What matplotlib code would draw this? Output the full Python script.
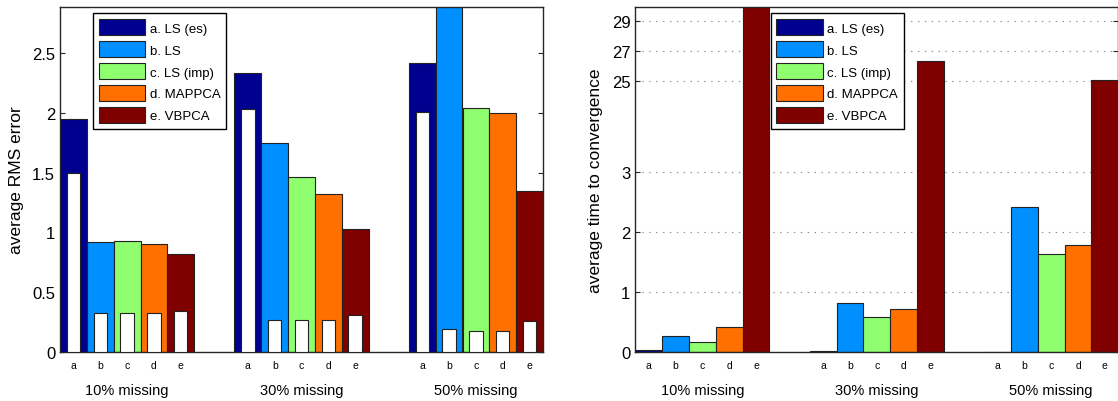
import numpy as np
import matplotlib
matplotlib.use('Agg')
import matplotlib.pyplot as plt

plt.rcParams['font.family'] = ['Liberation Sans', 'DejaVu Sans']

# data
methods = ['a. LS (es)', 'b. LS', 'c. LS (imp)', 'd. MAPPCA', 'e. VBPCA']
letters = ['a', 'b', 'c', 'd', 'e']
groups = ['10% missing', '30% missing', '50% missing']
colors = ['#00008F', '#008FFF', '#8FFF70', '#FF7000', '#800000']

# RMS error on test (outer bars) and train (inner white bars)
rms_test = [[1.95, 0.92, 0.93, 0.90, 0.82],
            [2.33, 1.75, 1.46, 1.32, 1.03],
            [2.42, 3.10, 2.04, 2.00, 1.35]]
rms_train = [[1.50, 0.33, 0.33, 0.33, 0.345],
             [2.03, 0.27, 0.27, 0.267, 0.31],
             [2.01, 0.19, 0.178, 0.178, 0.262]]
# time to convergence
conv_time = [[0.04, 0.26, 0.16, 0.41, 31.0],
             [0.015, 0.82, 0.58, 0.72, 26.3],
             [0.005, 2.41, 1.63, 1.79, 25.05]]

gstep = 6.5
edge = '#222222'


# broken y axis for the right panel: 0..4 linear, then 22.93.. compressed 4x
def fwd(y):
    y = np.asarray(y, dtype=float)
    return np.where(y <= 4, y, np.where(y >= 22.93, 4 + (y - 22.93) / 4, 4.0))


def inv(u):
    u = np.asarray(u, dtype=float)
    return np.where(u <= 4, u, 22.93 + 4 * (u - 4))


fig = plt.figure(figsize=(11.18, 4.02), dpi=100)
ax1 = fig.add_axes([60 / 1118, 49 / 402, 483 / 1118, 345 / 402])
ax2 = fig.add_axes([635.3 / 1118, 49 / 402, 483 / 1118, 345 / 402])


def style(ax):
    for s in ax.spines.values():
        s.set_color('#262626')
        s.set_linewidth(1.0)
    ax.tick_params(axis='y', direction='in', length=3.6, left=True, right=True,
                   labelsize=12, width=0.8, color='#262626')
    ax.tick_params(axis='x', length=0, labelsize=7.5, pad=6)
    ax.set_xlim(0, 3 * 5 + 2 * (gstep - 5))
    centers = [g * gstep + i + 0.5 for g in range(3) for i in range(5)]
    ax.set_xticks(centers)
    ax.set_xticklabels(letters * 3)
    for g, name in enumerate(groups):
        ax.text(g * gstep + 2.5, -0.11, name, transform=ax.get_xaxis_transform(),
                ha='center', va='center', fontsize=10.5)


# left panel
handles = []
for i in range(5):
    xs = [g * gstep + i + 0.5 for g in range(3)]
    h = ax1.bar(xs, [rms_test[g][i] for g in range(3)], width=1.0, color=colors[i],
                edgecolor=edge, linewidth=0.8, label=methods[i], zorder=2)
    handles.append(h)
    ax1.bar(xs, [rms_train[g][i] for g in range(3)], width=0.5, color='white',
            edgecolor=edge, linewidth=0.8, zorder=3)
ax1.set_ylim(0, 2.885)
ax1.set_yticks([0, 0.5, 1, 1.5, 2, 2.5])
ax1.set_yticklabels(['0', '0.5', '1', '1.5', '2', '2.5'])
ax1.set_ylabel('average RMS error', fontsize=12.5, labelpad=6)
style(ax1)

# right panel
ax2.set_yscale('function', functions=(fwd, inv))
for i in range(5):
    xs = [g * gstep + i + 0.5 for g in range(3)]
    ax2.bar(xs, [conv_time[g][i] for g in range(3)], width=1.0, color=colors[i],
            edgecolor=edge, linewidth=0.8, label=methods[i], zorder=2)
ax2.set_ylim(0, 29.93)
ax2.set_yticks([0, 1, 2, 3, 25, 27, 29])
ax2.set_yticklabels(['0', '1', '2', '3', '25', '27', '29'])
ax2.yaxis.set_minor_locator(matplotlib.ticker.NullLocator())
ax2.set_axisbelow(True)
ax2.yaxis.grid(True, linestyle=(0, (1.2, 5)), color='#888888', linewidth=0.8)
ax2.set_ylabel('average time to convergence', fontsize=12.5, labelpad=6)
style(ax2)

leg_kw = dict(loc='upper left', fontsize=9.5, handlelength=3.5, handleheight=1.52,
              labelspacing=0.43, handletextpad=0.35, borderpad=0.45,
              borderaxespad=0, fancybox=False, framealpha=1, edgecolor='black')
l1 = ax1.legend(handles=handles, bbox_to_anchor=(0.068, 0.982), **leg_kw)
l2 = ax2.legend(bbox_to_anchor=(0.280, 0.982), **leg_kw)
for l in (l1, l2):
    l.get_frame().set_linewidth(1.0)
    l.set_zorder(5)

fig.savefig('out.png', dpi=100)
